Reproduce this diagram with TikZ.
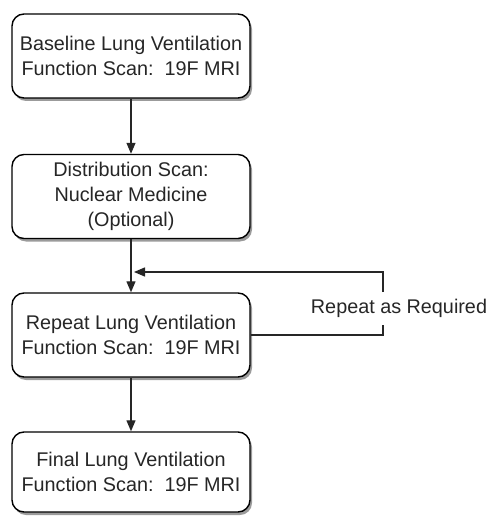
\documentclass[tikz,border=0pt]{standalone}
\usepackage{fontspec}
\setmainfont{Liberation Sans}
\usetikzlibrary{arrows.meta,shadows,positioning}
\begin{document}
\begin{tikzpicture}[x=1pt,y=-1pt,
  stepbox/.style={draw=black,line width=1.4pt,rounded corners=12pt,fill=white,
    minimum width=238pt,minimum height=84pt,align=center,text=black!85,
    font=\fontsize{19.8}{25}\selectfont,
    drop shadow={shadow xshift=2pt,shadow yshift=-3pt,opacity=0.6,fill=black!65}},
  conn/.style={line width=1.3pt,draw=black!85},
  arr/.style={conn,-{Triangle[length=11pt,width=9pt]}}]
\useasboundingbox (0,0) rectangle (489,518);
\node[stepbox] (b1) at (131,56) {Baseline Lung Ventilation\\Function Scan:\ \ 19F MRI};
\node[stepbox] (b2) at (131,196.5) {Distribution Scan:\\Nuclear Medicine\\(Optional)};
\node[stepbox] (b3) at (131,335) {Repeat Lung Ventilation\\Function Scan:\ \ 19F MRI};
\node[stepbox,minimum height=80pt] (b4) at (131,472) {Final Lung Ventilation\\Function Scan:\ \ 19F MRI};
\coordinate (j) at (b3.north |- 0,272);
\coordinate (r1) at (383,272);
\coordinate (r2) at (383,292);
\coordinate (r3) at (383,325);
\coordinate (r4) at (383,335);
\node[text=black!85,font=\fontsize{19.8}{25}\selectfont] (lab) at (399,308) {Repeat as Required};
\draw[arr] (b1.south) -- (b2.north);
\draw[arr] (b2.south) -- (b3.north);
\draw[arr] (r2) -- (r1) -- ([xshift=3pt]j);
\draw[conn] (b3.east |- r4) -- (r4) -- (r3);
\draw[arr] (b3.south) -- (b4.north);
\end{tikzpicture}
\end{document}
